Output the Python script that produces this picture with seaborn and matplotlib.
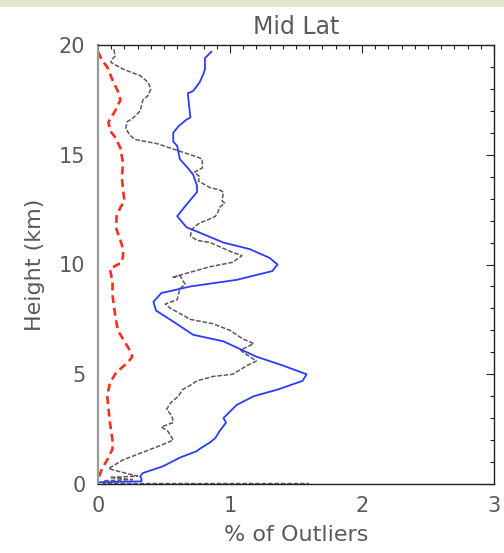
import numpy as np
import pandas as pd
import matplotlib
matplotlib.use("Agg")
import matplotlib.pyplot as plt
from matplotlib.patches import Rectangle
from matplotlib.ticker import MultipleLocator
import seaborn as sns

# Outlier-percentage profiles versus height (km)
blue_height = [19.7, 19.4, 18.9, 18.7, 18.3, 17.9, 17.8, 16.7, 16.6, 16.3, 16.0, 15.6, 15.4,
               14.8, 14.4, 14.1, 13.6, 13.3, 12.8, 12.5, 12.2, 11.7, 11.5, 11.0, 10.7, 10.3,
               10.0, 9.7, 9.3, 9.0, 8.7, 8.3, 7.9, 7.4, 6.8, 6.5, 5.8, 5.4, 5.0, 4.7, 4.3,
               4.0, 3.6, 3.3, 3.0, 2.8, 2.4, 2.1, 1.9, 1.6, 1.5, 1.2, 0.8, 0.5, 0.36, 0.2,
               0.12, 0.08]
blue_pct = [0.86, 0.81, 0.81, 0.80, 0.77, 0.72, 0.68, 0.70, 0.67, 0.61, 0.57, 0.57, 0.60,
            0.62, 0.68, 0.72, 0.75, 0.75, 0.68, 0.64, 0.60, 0.67, 0.75, 0.95, 1.15, 1.30,
            1.36, 1.32, 1.05, 0.70, 0.48, 0.42, 0.44, 0.57, 0.72, 0.95, 1.20, 1.40, 1.58,
            1.55, 1.36, 1.18, 1.05, 1.00, 0.95, 0.97, 0.92, 0.89, 0.85, 0.77, 0.75, 0.62,
            0.49, 0.34, 0.32, 0.33, 0.33, 0.00]

gray_height = [19.8, 19.5, 19.3, 19.2, 18.9, 18.6, 18.3, 18.0, 17.7, 17.5, 17.0, 16.7, 16.5,
               16.2, 15.9, 15.7, 15.5, 15.2, 14.9, 14.8, 14.4, 14.2, 14.0, 13.8, 13.5, 13.4,
               13.3, 12.9, 12.8, 12.6, 12.4, 12.2, 12.0, 11.9, 11.6, 11.3, 11.1, 11.0, 10.6,
               10.4, 10.1, 9.9, 9.6, 9.4, 9.5, 9.1, 8.9, 8.4, 8.2, 8.0, 7.5, 7.3, 7.0, 6.6,
               6.4, 6.1, 6.0, 5.6, 5.4, 5.0, 4.9, 4.7, 4.5, 4.3, 4.0, 3.7, 3.4, 3.1, 2.8,
               2.6, 2.4, 2.2, 2.0, 1.7, 1.4, 1.1, 0.7, 0.6, 0.36, 0.3, 0.2, 0.15, 0.02, 0.02]
gray_pct = [0.12, 0.13, 0.10, 0.10, 0.19, 0.32, 0.38, 0.40, 0.38, 0.34, 0.32, 0.27, 0.22,
            0.21, 0.24, 0.28, 0.45, 0.60, 0.75, 0.79, 0.79, 0.73, 0.77, 0.76, 0.85, 0.92,
            0.95, 0.94, 0.96, 0.92, 0.91, 0.89, 0.82, 0.77, 0.71, 0.70, 0.75, 0.85, 1.00,
            1.09, 1.02, 0.85, 0.67, 0.56, 0.62, 0.66, 0.62, 0.60, 0.51, 0.55, 0.70, 0.87,
            1.00, 1.10, 1.18, 1.08, 1.10, 1.20, 1.13, 1.02, 0.87, 0.75, 0.70, 0.64, 0.61,
            0.55, 0.52, 0.56, 0.57, 0.48, 0.53, 0.55, 0.57, 0.45, 0.32, 0.19, 0.08, 0.14,
            0.30, 0.09, 0.26, 0.04, 0.04, 1.60]

red_height = [19.7, 19.3, 19.0, 18.4, 17.9, 17.5, 17.0, 16.5, 16.1, 15.8, 15.3, 14.6, 14.0,
              13.4, 12.9, 12.6, 12.2, 11.6, 11.1, 10.7, 10.4, 10.1, 9.8, 9.2, 8.6, 7.7,
              7.0, 6.5, 6.1, 5.8, 5.5, 5.1, 4.6, 4.0, 3.4, 2.8, 2.0, 1.6, 1.1, 0.7, 0.2]
red_pct = [0.00, 0.03, 0.07, 0.11, 0.15, 0.17, 0.13, 0.08, 0.09, 0.13, 0.17, 0.19, 0.18,
           0.19, 0.20, 0.17, 0.14, 0.14, 0.17, 0.19, 0.19, 0.18, 0.09, 0.11, 0.11, 0.13,
           0.15, 0.20, 0.24, 0.26, 0.22, 0.14, 0.09, 0.07, 0.08, 0.09, 0.11, 0.11, 0.07,
           0.03, 0.00]

title = "Mid Lat"
x_label = "% of Outliers"
y_label = "Height (km)"

sns.set_theme(style="white")
plt.rcParams["font.family"] = ["DejaVu Sans"]
text_color = "#5a5a5a"

fig = plt.figure(figsize=(5.04, 5.53), dpi=100)
fig.patches.append(Rectangle((0, 1 - 7 / 553), 1, 7 / 553, transform=fig.transFigure,
                             facecolor="#dfe6cf", edgecolor="none", zorder=0))
ax = fig.add_axes([98 / 504, 1 - 484 / 553, (494 - 98) / 504, (484 - 45) / 553])

df_blue = pd.DataFrame({"pct": blue_pct, "height": blue_height})
df_gray = pd.DataFrame({"pct": gray_pct, "height": gray_height})
df_red = pd.DataFrame({"pct": red_pct, "height": red_height})

sns.lineplot(data=df_gray, x="pct", y="height", sort=False, estimator=None, orient="y",
             ax=ax, color="#5a5a5a", linewidth=1.1)
ax.lines[-1].set_linestyle((0, (3, 1.2)))
ax.lines[-1].set_clip_on(False)
sns.lineplot(data=df_blue, x="pct", y="height", sort=False, estimator=None, orient="y",
             ax=ax, color="#2a3cff", linewidth=1.3)
sns.lineplot(data=df_red, x="pct", y="height", sort=False, estimator=None, orient="y",
             ax=ax, color="#ff2d1e", linewidth=1.9)
ax.lines[-1].set_linestyle((0, (3, 1.8)))

ax.set_xlim(0, 3)
ax.set_ylim(0, 20)
ax.xaxis.set_major_locator(MultipleLocator(1))
ax.xaxis.set_minor_locator(MultipleLocator(0.1))
ax.yaxis.set_major_locator(MultipleLocator(5))
ax.yaxis.set_minor_locator(MultipleLocator(1))
ax.tick_params(which="both", direction="in", top=True, right=True, colors="#222222",
               labelcolor=text_color, labelsize=15, width=0.8)
ax.tick_params(which="major", length=6, pad=9)
ax.tick_params(which="minor", length=3)
for name, sp in ax.spines.items():
    sp.set_color("#222222")
    sp.set_linewidth(1.0)
ax.spines["left"].set_color("#9a9a9a")
ax.spines["left"].set_linewidth(1.6)

ax.set_xlabel(x_label, fontsize=16, color=text_color, labelpad=6)
ax.set_ylabel(y_label, fontsize=16, color=text_color, labelpad=10)
ax.set_title(title, fontsize=17, color=text_color, pad=8)

fig.savefig("out.png", dpi=100)
